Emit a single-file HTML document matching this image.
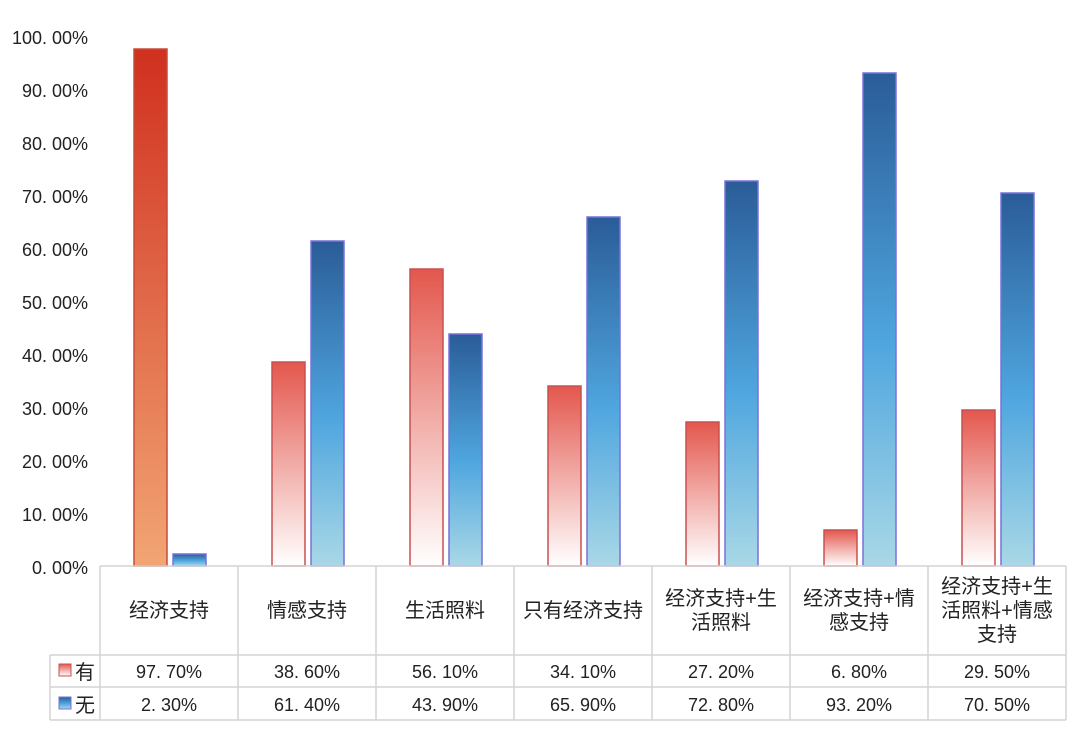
<!DOCTYPE html>
<html><head><meta charset="utf-8"><style>
body{margin:0;background:#fff;}
text{font-family:"Liberation Sans","Noto Sans CJK SC",sans-serif;fill:#222;}
</style></head><body>
<svg width="1080" height="728" xmlns="http://www.w3.org/2000/svg">
<defs>
<linearGradient id="r0" x1="0" y1="0" x2="0" y2="1"><stop offset="0" stop-color="#d0301f"/><stop offset="1" stop-color="#f2a574"/></linearGradient>
<linearGradient id="r" x1="0" y1="0" x2="0" y2="1"><stop offset="0" stop-color="#e3574d"/><stop offset="1" stop-color="#ffffff"/></linearGradient>
<linearGradient id="b" x1="0" y1="0" x2="0" y2="1"><stop offset="0" stop-color="#2a5c98"/><stop offset="0.55" stop-color="#4fa6df"/><stop offset="1" stop-color="#a9d8e6"/></linearGradient>
</defs>
<g font-size="18" text-anchor="end">
<text x="88" y="44">100. 00%</text>
<text x="88" y="97">90. 00%</text>
<text x="88" y="150">80. 00%</text>
<text x="88" y="203">70. 00%</text>
<text x="88" y="256">60. 00%</text>
<text x="88" y="309">50. 00%</text>
<text x="88" y="362">40. 00%</text>
<text x="88" y="415">30. 00%</text>
<text x="88" y="468">20. 00%</text>
<text x="88" y="521">10. 00%</text>
<text x="88" y="574">0. 00%</text>
</g>
<g stroke-width="1.5">
<rect x="134" y="49" width="33" height="517" fill="url(#r0)" stroke="#c84a3a"/>
<rect x="173" y="554" width="33" height="12" fill="url(#b)" stroke="#7a70d8"/>
<rect x="272" y="362" width="33" height="204" fill="url(#r)" stroke="#c85050"/>
<rect x="311" y="241" width="33" height="325" fill="url(#b)" stroke="#7a70d8"/>
<rect x="410" y="269" width="33" height="297" fill="url(#r)" stroke="#c85050"/>
<rect x="449" y="334" width="33" height="232" fill="url(#b)" stroke="#7a70d8"/>
<rect x="548" y="386" width="33" height="180" fill="url(#r)" stroke="#c85050"/>
<rect x="587" y="217" width="33" height="349" fill="url(#b)" stroke="#7a70d8"/>
<rect x="686" y="422" width="33" height="144" fill="url(#r)" stroke="#c85050"/>
<rect x="725" y="181" width="33" height="385" fill="url(#b)" stroke="#7a70d8"/>
<rect x="824" y="530" width="33" height="36" fill="url(#r)" stroke="#c85050"/>
<rect x="863" y="73" width="33" height="493" fill="url(#b)" stroke="#7a70d8"/>
<rect x="962" y="410" width="33" height="156" fill="url(#r)" stroke="#c85050"/>
<rect x="1001" y="193" width="33" height="373" fill="url(#b)" stroke="#7a70d8"/>
</g>
<g stroke="#d4d4d4" stroke-width="1.5" fill="none">
<line x1="100" y1="566" x2="1066" y2="566"/>
<line x1="50" y1="655" x2="1066" y2="655"/>
<line x1="50" y1="687" x2="1066" y2="687"/>
<line x1="50" y1="720" x2="1066" y2="720"/>
<line x1="50" y1="655" x2="50" y2="720"/>
<line x1="100" y1="566" x2="100" y2="720"/>
<line x1="238" y1="566" x2="238" y2="720"/>
<line x1="376" y1="566" x2="376" y2="720"/>
<line x1="514" y1="566" x2="514" y2="720"/>
<line x1="652" y1="566" x2="652" y2="720"/>
<line x1="790" y1="566" x2="790" y2="720"/>
<line x1="928" y1="566" x2="928" y2="720"/>
<line x1="1066" y1="566" x2="1066" y2="720"/>
</g>
<g font-size="20" text-anchor="middle">
<text x="169" y="617">经济支持</text>
<text x="307" y="617">情感支持</text>
<text x="445" y="617">生活照料</text>
<text x="583" y="617">只有经济支持</text>
<text x="721" y="605">经济支持+生</text><text x="721" y="629">活照料</text>
<text x="859" y="605">经济支持+情</text><text x="859" y="629">感支持</text>
<text x="997" y="593">经济支持+生</text><text x="997" y="617">活照料+情感</text><text x="997" y="641">支持</text>
</g>
<rect x="59" y="664" width="12" height="12" fill="url(#r)" stroke="#c85050"/>
<rect x="59" y="697" width="12" height="12" fill="url(#b)" stroke="#7a70d8"/>
<g font-size="20"><text x="75" y="679">有</text><text x="75" y="712">无</text></g>
<g font-size="18" text-anchor="middle">
<text x="169" y="678">97. 70%</text><text x="307" y="678">38. 60%</text><text x="445" y="678">56. 10%</text><text x="583" y="678">34. 10%</text><text x="721" y="678">27. 20%</text><text x="859" y="678">6. 80%</text><text x="997" y="678">29. 50%</text>
<text x="169" y="711">2. 30%</text><text x="307" y="711">61. 40%</text><text x="445" y="711">43. 90%</text><text x="583" y="711">65. 90%</text><text x="721" y="711">72. 80%</text><text x="859" y="711">93. 20%</text><text x="997" y="711">70. 50%</text>
</g>
</svg>
</body></html>
